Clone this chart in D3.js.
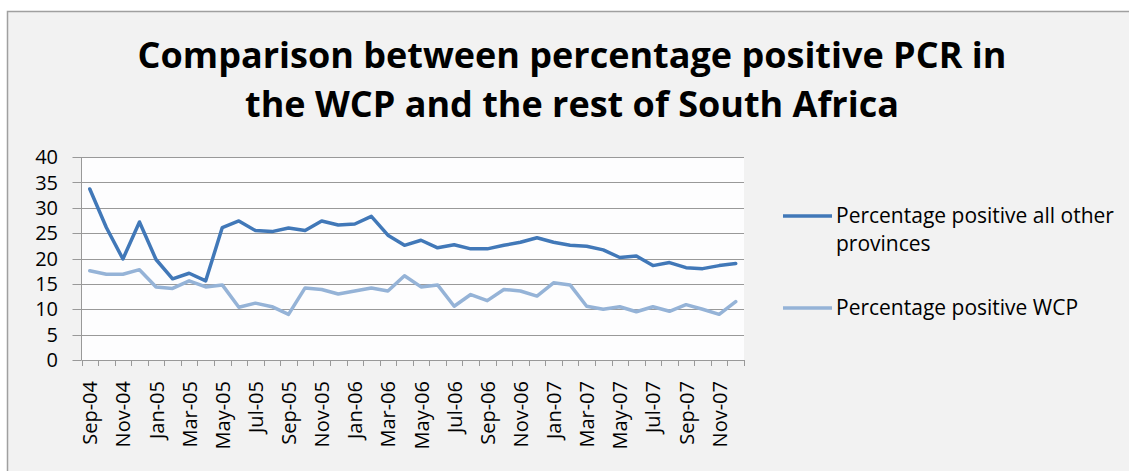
<!DOCTYPE html>
<html lang="en">
<head>
  <meta charset="UTF-8" />
  <title>Percentage positive PCR</title>
  <script src="https://d3js.org/d3.v7.min.js"></script>
  <style>
    body { margin: 0; background: #fff; font-family: "Open Sans", sans-serif; }
    .tick-label { font-size: 20px; fill: #000; }
    .legend-label { font-size: 21px; fill: #000; }
  </style>
</head>
<body>
  <svg width="1129" height="471"></svg>

  <script>
    const months = [
      "Sep-04","Oct-04","Nov-04","Dec-04","Jan-05","Feb-05","Mar-05","Apr-05",
      "May-05","Jun-05","Jul-05","Aug-05","Sep-05","Oct-05","Nov-05","Dec-05",
      "Jan-06","Feb-06","Mar-06","Apr-06","May-06","Jun-06","Jul-06","Aug-06",
      "Sep-06","Oct-06","Nov-06","Dec-06","Jan-07","Feb-07","Mar-07","Apr-07",
      "May-07","Jun-07","Jul-07","Aug-07","Sep-07","Oct-07","Nov-07","Dec-07"
    ];
    const otherProvinces = [
      33.7, 26.1, 19.9, 27.2, 19.8, 16.0, 17.1, 15.6, 26.1, 27.4,
      25.5, 25.3, 26.0, 25.5, 27.4, 26.6, 26.8, 28.3, 24.6, 22.6,
      23.6, 22.1, 22.7, 21.9, 21.9, 22.6, 23.2, 24.1, 23.2, 22.6,
      22.4, 21.7, 20.2, 20.5, 18.6, 19.2, 18.2, 18.0, 18.6, 19.0
    ];
    const wcp = [
      17.6, 16.9, 16.9, 17.8, 14.4, 14.1, 15.6, 14.4, 14.8, 10.4,
      11.2, 10.5, 9.0, 14.2, 13.9, 13.0, 13.6, 14.2, 13.6, 16.6,
      14.4, 14.8, 10.6, 12.9, 11.7, 13.9, 13.6, 12.6, 15.2, 14.8,
      10.6, 10.0, 10.5, 9.5, 10.5, 9.6, 10.9, 10.0, 9.0, 11.5
    ];
    const yTicks = [0, 5, 10, 15, 20, 25, 30, 35, 40];
    const seriesNames = ["Percentage positive all other provinces", "Percentage positive WCP"];
    const titleLines = ["Comparison between percentage positive PCR in", "the WCP and the rest of South Africa"];

    const colors = ["#4178b8", "#95b3d7"];

    const svg = d3.select("svg");

    // chart frame
    svg.append("rect")
      .attr("x", 7.5).attr("y", 11.5)
      .attr("width", 1140).attr("height", 480)
      .attr("fill", "#f2f2f2")
      .attr("stroke", "#a0a0a0")
      .attr("stroke-width", 1.5);

    // title
    svg.append("text")
      .attr("text-anchor", "middle")
      .attr("font-weight", "bold")
      .attr("font-size", 36)
      .selectAll("tspan")
      .data(titleLines)
      .enter()
      .append("tspan")
      .attr("x", 572)
      .attr("y", (d, i) => 68 + i * 49)
      .text(d => d);

    const pLeft = 81.5, pRight = 744, pTop = 157, pBottom = 360;

    const x = d3.scaleBand().domain(months).range([pLeft, pRight]);
    const y = d3.scaleLinear().domain([0, 40]).range([pBottom, pTop]);

    svg.append("rect")
      .attr("x", pLeft).attr("y", pTop)
      .attr("width", pRight - pLeft).attr("height", pBottom - pTop)
      .attr("fill", "#fdfdfe");

    // gridlines
    svg.append("g")
      .selectAll("line")
      .data(yTicks.filter(d => d > 0))
      .enter()
      .append("line")
      .attr("x1", pLeft).attr("x2", pRight)
      .attr("y1", d => Math.round(y(d)) + 0.5)
      .attr("y2", d => Math.round(y(d)) + 0.5)
      .attr("stroke", "#999");

    // y axis
    const yAxis = svg.append("g");
    yAxis.append("line")
      .attr("x1", pLeft).attr("x2", pLeft)
      .attr("y1", pTop).attr("y2", pBottom)
      .attr("stroke", "#999");
    yAxis.selectAll(".yt")
      .data(yTicks)
      .enter()
      .append("line")
      .attr("x1", pLeft - 9).attr("x2", pLeft)
      .attr("y1", d => Math.round(y(d)) + 0.5)
      .attr("y2", d => Math.round(y(d)) + 0.5)
      .attr("stroke", "#999");
    yAxis.selectAll("text")
      .data(yTicks)
      .enter()
      .append("text")
      .attr("class", "tick-label")
      .attr("x", 58)
      .attr("y", d => y(d))
      .attr("dy", "0.36em")
      .attr("text-anchor", "end")
      .text(d => d);

    // x axis
    const xAxis = svg.append("g");
    xAxis.append("line")
      .attr("x1", pLeft).attr("x2", pRight)
      .attr("y1", pBottom + 0.5).attr("y2", pBottom + 0.5)
      .attr("stroke", "#999");
    xAxis.selectAll(".xt")
      .data(months.concat(["end"]))
      .enter()
      .append("line")
      .attr("x1", (d, i) => Math.round(pLeft + i * x.step()) + 0.5)
      .attr("x2", (d, i) => Math.round(pLeft + i * x.step()) + 0.5)
      .attr("y1", pBottom).attr("y2", pBottom + 6)
      .attr("stroke", "#999");
    xAxis.selectAll("text")
      .data(months.filter((d, i) => i % 2 === 0))
      .enter()
      .append("text")
      .attr("class", "tick-label")
      .attr("text-anchor", "end")
      .attr("transform", d => `translate(${x(d) + x.bandwidth() / 2 + 7.5},381) rotate(-90)`)
      .text(d => d);

    // lines
    const line = d3.line()
      .x((d, i) => x(months[i]) + x.bandwidth() / 2)
      .y(d => y(d));

    [otherProvinces, wcp].forEach((s, k) => {
      svg.append("path")
        .datum(s)
        .attr("d", line)
        .attr("fill", "none")
        .attr("stroke", colors[k])
        .attr("stroke-width", 3.5)
        .attr("stroke-linejoin", "round")
        .attr("stroke-linecap", "round");
    });

    // legend
    const legend = svg.append("g");
    const legendY = [216, 308];
    legend.selectAll("line")
      .data(seriesNames)
      .enter()
      .append("line")
      .attr("x1", 783).attr("x2", 832)
      .attr("y1", (d, i) => legendY[i]).attr("y2", (d, i) => legendY[i])
      .attr("stroke", (d, i) => colors[i])
      .attr("stroke-width", 3.5);
    legend.append("text")
      .attr("class", "legend-label")
      .selectAll("tspan")
      .data(["Percentage positive all other", "provinces"])
      .enter()
      .append("tspan")
      .attr("x", 836)
      .attr("y", (d, i) => legendY[0] + 7 + i * 28)
      .text(d => d);
    legend.append("text")
      .attr("class", "legend-label")
      .attr("x", 836)
      .attr("y", legendY[1] + 7)
      .text(seriesNames[1]);
  </script>
</body>
</html>
